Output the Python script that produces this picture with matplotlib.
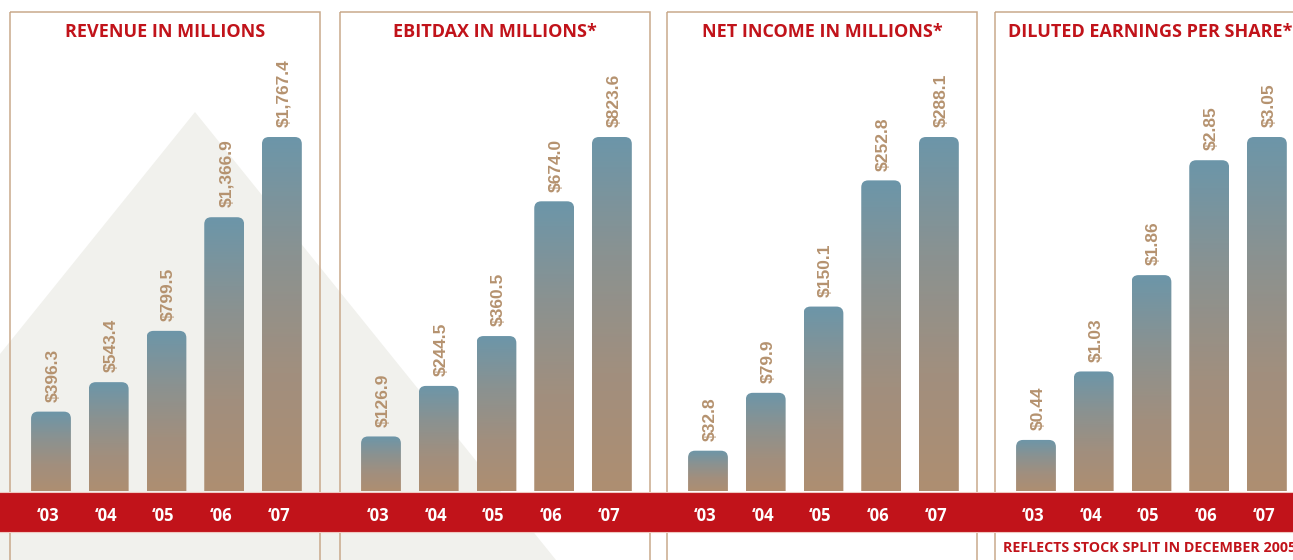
import numpy as np
import matplotlib
matplotlib.use("Agg")
import matplotlib.pyplot as plt
import matplotlib.transforms as mtransforms
from matplotlib.patches import Rectangle, Polygon, FancyBboxPatch
from matplotlib.colors import LinearSegmentedColormap

# data
years = ["\u201803", "\u201804", "\u201805", "\u201806", "\u201807"]
titles = ["REVENUE IN MILLIONS", "EBITDAX IN MILLIONS*",
          "NET INCOME IN MILLIONS*", "DILUTED EARNINGS PER SHARE*"]
revenue = [396.3, 543.4, 799.5, 1366.9, 1767.4]
ebitdax = [126.9, 244.5, 360.5, 674.0, 823.6]
net_income = [32.8, 79.9, 150.1, 252.8, 288.1]
eps = [0.44, 1.03, 1.86, 2.85, 3.05]
series = [revenue, ebitdax, net_income, eps]
label_fmt = ["${:,.1f}", "${:,.1f}", "${:,.1f}", "${:.2f}"]
footnote = "REFLECTS STOCK SPLIT IN DECEMBER 2005"

W, H = 1293, 560
red = "#c1131a"
tan_line = "#c9a98b"
label_col = "#b5926f"
grad = LinearSegmentedColormap.from_list("g", ["#ae8e71", "#a18f7e", "#8a9291", "#6c96a9"])

fig = plt.figure(figsize=(W / 100, H / 100), dpi=100)

# background layer in pixel coords
bg = fig.add_axes([0, 0, 1, 1], zorder=0)
bg.set_xlim(0, W)
bg.set_ylim(H, 0)
bg.axis("off")
bg.add_patch(Polygon([(195, 112), (-170, 565), (560, 565)], closed=True,
                     facecolor="#f1f1ed", edgecolor="none"))

panel_left = [10, 340, 667, 995]
panel_w = 310
top_px, base_px, max_px = 12, 491, 137
for pl in panel_left:
    bg.add_patch(Rectangle((pl, top_px), panel_w, 600, facecolor="none",
                           edgecolor=tan_line, lw=1.1))
bg.add_patch(Rectangle((-5, 492), W + 10, 39.5, facecolor=red, edgecolor="#f0c8c0", lw=0.8))
bg.text(1003, 548.5, footnote, color=red, fontsize=10.3, fontweight="bold",
        family="Open Sans", va="center", ha="left")

xl0, xl1 = -0.71, 4.66
bw = 0.69
shift = mtransforms.ScaledTranslation(-3 / 100, 0, fig.dpi_scale_trans)
for k in range(4):
    vals = series[k]
    ax = fig.add_axes([panel_left[k] / W, (H - base_px) / H, panel_w / W,
                       (base_px - top_px) / H], zorder=1)
    ax.patch.set_alpha(0)
    ymax = max(vals) * (base_px - top_px) / (base_px - max_px)
    ax.set_xlim(xl0, xl1)
    ax.set_ylim(0, ymax)
    px_x = panel_w / (xl1 - xl0)
    px_y = (base_px - top_px) / ymax
    r = 7 / px_x
    asp = px_x / px_y
    for i, v in enumerate(vals):
        patch = FancyBboxPatch((i - bw / 2, -r * asp * 2), bw, v + r * asp * 2,
                               boxstyle="round,pad=0,rounding_size=%f" % r,
                               mutation_aspect=asp, facecolor="none", edgecolor="none")
        ax.add_patch(patch)
        im = ax.imshow(np.linspace(0, 1, 256).reshape(-1, 1), cmap=grad, origin="lower",
                       extent=(i - bw / 2, i + bw / 2, 0, v), aspect="auto", zorder=2)
        im.set_clip_path(patch)
        ax.annotate(label_fmt[k].format(v), (i, v), xytext=(1.5, 7), textcoords="offset points",
                    rotation=90, ha="center", va="bottom", color=label_col,
                    fontsize=12.5, fontweight="bold", family="Liberation Sans")
    ax.set_xlim(xl0, xl1)
    ax.set_ylim(0, ymax)
    ax.set_xticks(range(len(years)))
    ax.set_xticklabels(years, color="white", fontsize=12, fontweight="bold", family="Open Sans")
    ax.tick_params(axis="x", length=0, pad=11.5)
    for lbl in ax.get_xticklabels():
        lbl.set_transform(lbl.get_transform() + shift)
    ax.set_yticks([])
    for s in ax.spines.values():
        s.set_visible(False)
    ax.text(0.5, (base_px - 32) / (base_px - top_px), titles[k], transform=ax.transAxes,
            ha="center", va="center", color=red, fontsize=13, fontweight="bold",
            family="Open Sans")

fig.savefig("out.png", dpi=100)
